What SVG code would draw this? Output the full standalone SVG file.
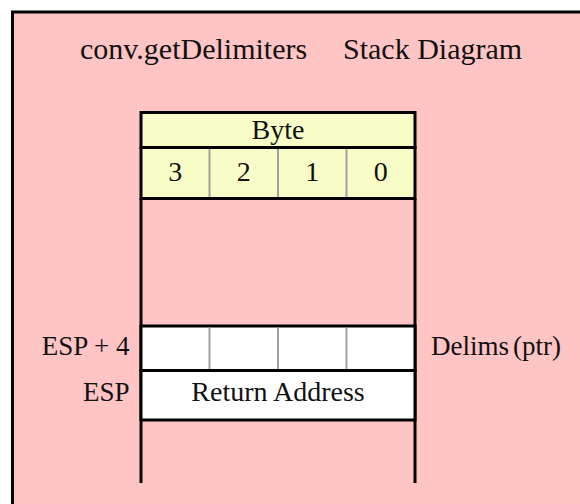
<svg xmlns="http://www.w3.org/2000/svg" width="580" height="504" viewBox="0 0 580 504">
<style>
text{font-family:"Liberation Serif","Times New Roman",serif;fill:#111;}
.t{font-size:30px;}
.c{font-size:28px;text-anchor:middle;}
.r{font-size:27px;text-anchor:end;}
.l{font-size:27px;text-anchor:start;}
.box{stroke:#000;stroke-width:3;}
.div{stroke:#a0a0a0;stroke-width:2;}
.ln{stroke:#000;stroke-width:3;fill:none;}
</style>
<rect width="580" height="504" fill="#fff"/>
<rect id="frame" x="12.5" y="12" width="600" height="600" fill="#ffc4c4" stroke="#000" stroke-width="3"/>
<g id="title">
<text class="t" x="80" y="59">conv.getDelimiters</text>
<text class="t" x="343" y="59">Stack Diagram</text>
</g>
<g id="header">
<rect class="box" x="141" y="112.5" width="274" height="35" fill="#f8fcc6"/>
<text class="c" x="278" y="138.5">Byte</text>
<rect class="box" x="141" y="147.5" width="274" height="51" fill="#f8fcc6"/>
<line class="div" x1="209.5" y1="149" x2="209.5" y2="197"/>
<line class="div" x1="278" y1="149" x2="278" y2="197"/>
<line class="div" x1="346.5" y1="149" x2="346.5" y2="197"/>
<text class="c" x="175.25" y="181">3</text>
<text class="c" x="243.75" y="181">2</text>
<text class="c" x="312.25" y="181">1</text>
<text class="c" x="380.75" y="181">0</text>
</g>
<g id="stack-lines">
<line class="ln" x1="141" y1="198.5" x2="141" y2="483"/>
<line class="ln" x1="415" y1="198.5" x2="415" y2="483"/>
</g>
<g id="delims">
<rect class="box" x="141" y="326" width="274" height="44.5" fill="#fff"/>
<line class="div" x1="209.5" y1="327.5" x2="209.5" y2="369"/>
<line class="div" x1="278" y1="327.5" x2="278" y2="369"/>
<line class="div" x1="346.5" y1="327.5" x2="346.5" y2="369"/>
<text class="r" x="129.5" y="355">ESP + 4</text>
<text class="l" x="431" y="355">Delims<tspan dx="4">(ptr)</tspan></text>
</g>
<g id="return">
<rect class="box" x="141" y="370.5" width="274" height="49.5" fill="#fff"/>
<text class="c" x="278" y="401">Return Address</text>
<text class="r" x="129.5" y="401">ESP</text>
</g>
</svg>
